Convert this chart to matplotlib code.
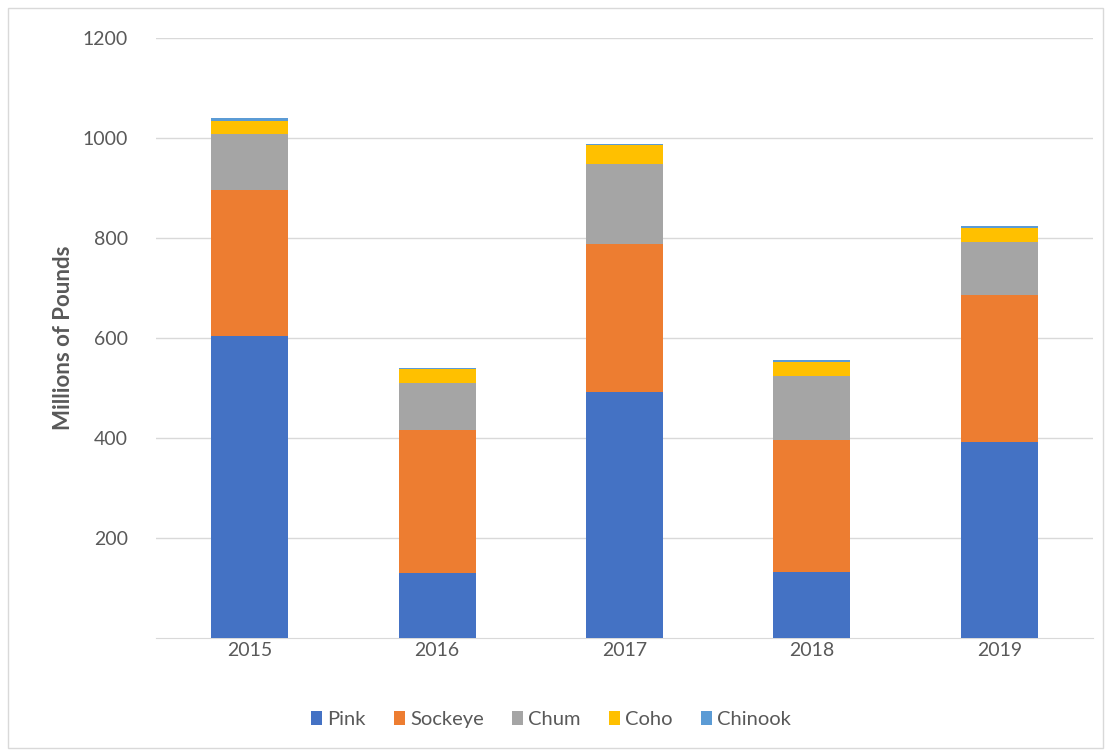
import matplotlib.pyplot as plt
import numpy as np
from matplotlib.patches import Rectangle

years = ['2015', '2016', '2017', '2018', '2019']
species = ['Pink', 'Sockeye', 'Chum', 'Coho', 'Chinook']
pink = [604, 130, 493, 133, 393]
sockeye = [292, 287, 296, 263, 293]
chum = [113, 93, 160, 128, 107]
coho = [26, 28, 37, 29, 28]
chinook = [6, 3, 3, 4, 4]
colors = ['#4472C4', '#ED7D31', '#A5A5A5', '#FFC000', '#5B9BD5']

plt.rcParams['font.family'] = ['Lato', 'DejaVu Sans']

fig = plt.figure(figsize=(11.11, 7.54), dpi=100)
ax = fig.add_axes([0.1404, 0.1538, 0.8434, 0.7958])

x = np.arange(len(years))
bottom = np.zeros(len(years))
for name, vals, c in zip(species, [pink, sockeye, chum, coho, chinook], colors):
    ax.bar(x, vals, width=0.41, bottom=bottom, color=c, label=name, zorder=3)
    bottom += np.array(vals)

ax.set_xlim(-0.5, 4.5)
ax.set_ylim(0, 1200)
ax.set_yticks([200, 400, 600, 800, 1000, 1200])
ax.set_xticks(x, years)
ax.grid(axis='y', color='#d9d9d9', linewidth=1, zorder=0)
for s in ['top', 'right', 'left']:
    ax.spines[s].set_visible(False)
ax.spines['bottom'].set_color('#d9d9d9')
ax.tick_params(axis='both', length=0, labelsize=14, colors='#595959')
ax.tick_params(axis='y', pad=20)
ax.tick_params(axis='x', pad=3)
ax.set_ylabel('Millions of Pounds', fontsize=16, fontweight='bold', color='#595959', labelpad=6)

# legend sits a bit left of the plot centre, like the original
leg = fig.legend(*ax.get_legend_handles_labels(), loc='center', bbox_to_anchor=(0.496, 0.046),
                 ncol=5, frameon=False, fontsize=14.5, handlelength=0.55, handleheight=0.7,
                 handletextpad=0.25, columnspacing=1.4)
for t in leg.get_texts():
    t.set_color('#595959')

fig.patches.append(Rectangle((0.007, 0.008), 0.986, 0.982, transform=fig.transFigure,
                             fill=False, edgecolor='#d9d9d9', linewidth=1))

fig.savefig('out.png', dpi=100)
